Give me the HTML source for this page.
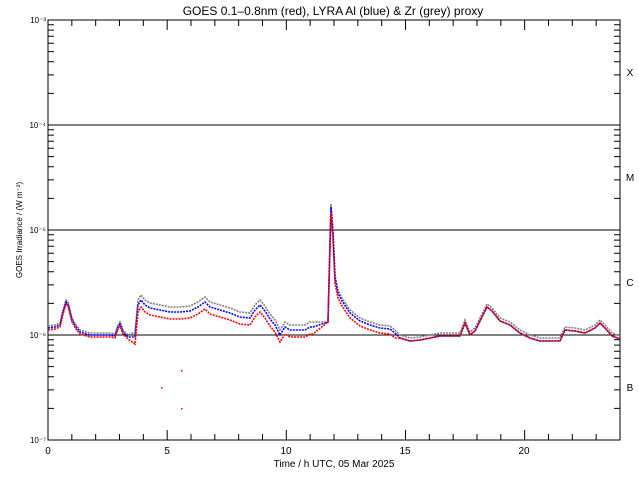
<!DOCTYPE html>
<html><head><style>
body{margin:0;background:#fff;}
svg text{font-family:"Liberation Sans",sans-serif;fill:#000}
</style></head><body>
<svg id="s" width="639" height="477" viewBox="0 0 639 477" xmlns="http://www.w3.org/2000/svg">
<rect width="639" height="477" fill="#fff"/>
<text x="333" y="15" font-size="12" text-anchor="middle">GOES 0.1–0.8nm (red), LYRA Al (blue) &amp; Zr (grey) proxy</text>
<g id="ax" stroke="#000" stroke-width="1" fill="none"></g>
<g id="lab" font-size="8"></g>
<text x="48" y="454" font-size="10" text-anchor="middle">0</text>
<text x="167" y="454" font-size="10" text-anchor="middle">5</text>
<text x="286" y="454" font-size="10" text-anchor="middle">10</text>
<text x="405" y="454" font-size="10" text-anchor="middle">15</text>
<text x="524" y="454" font-size="10" text-anchor="middle">20</text>
<text x="334" y="467" font-size="10" text-anchor="middle">Time / h UTC, 05 Mar 2025</text>
<text transform="translate(22,230) rotate(-90)" font-size="8" text-anchor="middle">GOES Irradiance / (W m⁻²)</text>
<text x="630" y="76" font-size="10" text-anchor="middle">X</text>
<text x="630" y="181" font-size="10" text-anchor="middle">M</text>
<text x="630" y="286" font-size="10" text-anchor="middle">C</text>
<text x="630" y="391" font-size="10" text-anchor="middle">B</text>
<g id="data" fill="none" stroke-width="1.6" stroke-dasharray="2 1"></g>
</svg>
<script>
var ax=document.getElementById('ax'),lab=document.getElementById('lab'),d='';
d+='M48 20H620V440H48Z';
for(var k=0;k<4;k++){var y0=20+105*k;
 if(k<3)d+='M48 '+(125+105*k)+'H620';
 for(var m=2;m<=9;m++){var y=440-105*(3-k)-105*Math.log10(m)+0;y=125+105*k-105*Math.log10(m);d+='M48 '+y+'h6M620 '+y+'h-6';}}
for(var h=0;h<=24;h++){var x=48+h*23.833;var L=(h%5==0)?10:6;d+='M'+x+' 440v-'+L+'M'+x+' 20v'+L;}
ax.innerHTML='<path d="'+d+'"/>';
var lb=['10⁻³','10⁻⁴','10⁻⁵','10⁻⁶','10⁻⁷'];var s='';
for(var i=0;i<5;i++)s+='<text x="46" y="'+(23+105*i)+'" text-anchor="end">'+lb[i]+'</text>';
lab.innerHTML=s;
var g=[[48,326],[55,325],[60,323],[63,310],[66,300],[68,302],[72,318],[76,325],[80,330],[90,333],[100,333],[110,333],[115,334],[118,325],[120,322],[123,330],[128,335],[135,332],[138,300],[141,295],[145,300],[150,303],[160,305],[170,307],[180,307],[190,306],[198,302],[205,297],[210,302],[220,305],[230,308],[240,312],[250,313],[255,305],[260,300],[265,306],[270,314],[275,320],[280,330],[285,322],[290,325],[300,325],[305,325],[310,322],[313,322],[328,322],[330,240],[331,204],[333,230],[335,275],[338,290],[342,298],[350,310],[360,318],[370,322],[380,325],[390,326],[395,330],[400,335],[410,338],[420,337],[440,333],[460,333],[465,320],[470,332],[475,328],[480,318],[487,304],[492,308],[500,318],[510,322],[520,330],[530,335],[540,338],[560,338],[565,327],[575,328],[585,330],[595,325],[600,320],[605,325],[612,333],[620,336]];
function off(x,y){if(x<135)return 4;if(x<328)return 12;if(x<330)return 0;if(x<400)return 8;return 3;}
function pl(f,c){return '<polyline stroke="'+c+'" points="'+g.map(function(p){return p[0]+','+(p[1]+f(p[0]))}).join(' ')+'"/>';}
document.getElementById('data').innerHTML=pl(function(){return 0},'#808080')+pl(function(x){return x<330&&x>=328?0:(x<135?2:(x<328?5:3))},'#0000ff')+pl(off,'#ff0000')+
'<rect x="161" y="387" width="1.5" height="1.5" fill="red" stroke="none"/><rect x="181" y="370" width="1.5" height="1.5" fill="red" stroke="none"/><rect x="181" y="408" width="1.5" height="1.5" fill="red" stroke="none"/>';
</script>
</body></html>
